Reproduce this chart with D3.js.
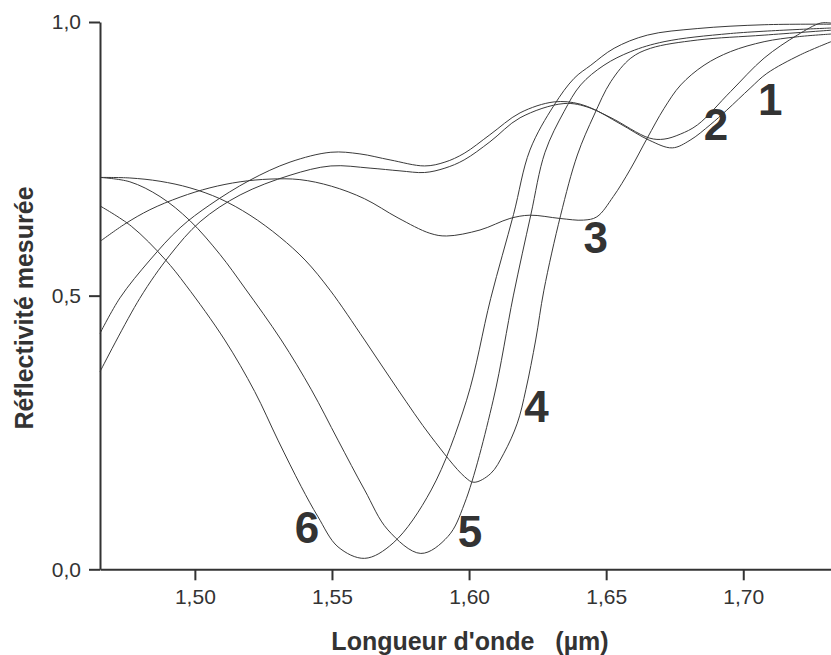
<!DOCTYPE html>
<html>
<head>
<meta charset="utf-8">
<script src="https://cdn.jsdelivr.net/npm/d3@7"></script>
<style>
  body { margin: 0; background: #fff; }
  text { font-family: Arial, "Liberation Sans", sans-serif; }
</style>
</head>
<body>
<div id="chart-area"></div>
<script>
// Longueur d'onde (µm) et réflectivité pour chaque courbe
var wl1 = [1.4654, 1.4799, 1.4909, 1.5019, 1.5165, 1.5347, 1.5496, 1.5639, 1.5748, 1.5838, 1.5912, 1.5982, 1.6076, 1.6186, 1.6346, 1.6441, 1.6551, 1.6657, 1.6741, 1.6806, 1.6879, 1.6940, 1.7025, 1.7086, 1.7208, 1.7320];
var refl1 = [0.361, 0.495, 0.574, 0.635, 0.684, 0.720, 0.737, 0.733, 0.728, 0.725, 0.733, 0.748, 0.781, 0.825, 0.851, 0.843, 0.814, 0.784, 0.770, 0.784, 0.812, 0.839, 0.879, 0.906, 0.940, 0.964];

var wl2 = [1.4654, 1.4727, 1.4836, 1.4946, 1.5055, 1.5201, 1.5347, 1.5496, 1.5602, 1.5712, 1.5838, 1.5912, 1.5982, 1.6076, 1.6186, 1.6310, 1.6405, 1.6514, 1.6657, 1.6711, 1.6770, 1.6833, 1.6954, 1.7076, 1.7197, 1.7282, 1.7320];
var refl2 = [0.431, 0.496, 0.565, 0.624, 0.666, 0.711, 0.744, 0.762, 0.759, 0.748, 0.737, 0.744, 0.760, 0.794, 0.834, 0.854, 0.850, 0.826, 0.788, 0.786, 0.795, 0.812, 0.873, 0.934, 0.976, 0.998, 0.998];

var wl3 = [1.4654, 1.4745, 1.4836, 1.4946, 1.5055, 1.5165, 1.5274, 1.5383, 1.5498, 1.5619, 1.5741, 1.5857, 1.5918, 1.6040, 1.6149, 1.6222, 1.6332, 1.6417, 1.6466, 1.6526, 1.6587, 1.6650, 1.6711, 1.6772, 1.6857, 1.6954, 1.7076, 1.7197, 1.7320];
var refl3 = [0.599, 0.631, 0.657, 0.680, 0.697, 0.708, 0.713, 0.712, 0.700, 0.677, 0.642, 0.614, 0.609, 0.620, 0.641, 0.647, 0.641, 0.638, 0.644, 0.681, 0.730, 0.788, 0.842, 0.885, 0.921, 0.946, 0.964, 0.973, 0.978];

var wl4 = [1.4654, 1.4763, 1.4873, 1.4982, 1.5092, 1.5201, 1.5310, 1.5402, 1.5493, 1.5619, 1.5741, 1.5862, 1.5984, 1.6018, 1.6079, 1.6127, 1.6176, 1.6207, 1.6243, 1.6273, 1.6334, 1.6395, 1.6456, 1.6517, 1.6590, 1.6662, 1.6832, 1.7076, 1.7320];
var refl4 = [0.716, 0.715, 0.709, 0.697, 0.677, 0.647, 0.607, 0.565, 0.510, 0.419, 0.328, 0.242, 0.169, 0.159, 0.175, 0.212, 0.267, 0.328, 0.419, 0.510, 0.647, 0.757, 0.830, 0.891, 0.934, 0.952, 0.967, 0.976, 0.985];

var wl5 = [1.4654, 1.4763, 1.4873, 1.4982, 1.5092, 1.5182, 1.5315, 1.5425, 1.5522, 1.5619, 1.5704, 1.5824, 1.5923, 1.5984, 1.6088, 1.6162, 1.6225, 1.6277, 1.6346, 1.6407, 1.6492, 1.6590, 1.6711, 1.6954, 1.7320];
var refl5 = [0.716, 0.708, 0.681, 0.637, 0.575, 0.514, 0.419, 0.328, 0.236, 0.145, 0.072, 0.029, 0.060, 0.121, 0.309, 0.501, 0.647, 0.762, 0.836, 0.885, 0.921, 0.946, 0.964, 0.979, 0.989];

var wl6 = [1.4654, 1.4768, 1.4890, 1.4969, 1.5109, 1.5218, 1.5303, 1.5388, 1.5449, 1.5522, 1.5619, 1.5723, 1.5862, 1.5991, 1.6079, 1.6162, 1.6222, 1.6310, 1.6383, 1.6444, 1.6529, 1.6650, 1.6832, 1.7076, 1.7320];
var refl6 = [0.664, 0.627, 0.567, 0.518, 0.419, 0.325, 0.236, 0.151, 0.096, 0.041, 0.020, 0.048, 0.145, 0.309, 0.495, 0.648, 0.766, 0.848, 0.897, 0.921, 0.952, 0.976, 0.988, 0.995, 0.996];

// Graduations
var xMajor = [1.50, 1.55, 1.60, 1.65, 1.70];
var xMinor = [1.475, 1.525, 1.575, 1.625, 1.675, 1.725];
var yMajor = [0.0, 0.5, 1.0];
var yMinor = [0.25, 0.75];

// Numéros des courbes (position en unités du graphique)
var curveNames = ["1", "2", "3", "4", "5", "6"];
var nameWl = [1.7098, 1.6901, 1.6462, 1.6246, 1.6003, 1.5409];
var nameR = [0.830, 0.784, 0.578, 0.270, 0.041, 0.048];

var curves = [[wl1, refl1], [wl2, refl2], [wl3, refl3], [wl4, refl4], [wl5, refl5], [wl6, refl6]];

var width = 831, height = 655;
var ink = "#333";

var svg = d3.select("#chart-area").append("svg")
    .attr("width", width)
    .attr("height", height);

var x = d3.scaleLinear().domain([1.4654, 1.7320]).range([100, 831]);
var y = d3.scaleLinear().domain([0, 1]).range([569.3, 22]);

var virgule = function(fmt) {
    return function(d) { return d3.format(fmt)(d).replace(".", ","); };
};

// Courbes
var line = d3.line()
    .x(d => x(d[0]))
    .y(d => y(d[1]))
    .curve(d3.curveCatmullRom.alpha(0.5));

svg.selectAll("path.curve")
    .data(curves)
    .enter()
    .append("path")
    .attr("class", "curve")
    .attr("d", c => line(c[0].map((w, i) => [w, c[1][i]])))
    .attr("fill", "none")
    .attr("stroke", "#3a3a3a")
    .attr("stroke-width", 1);

// Axe X
var gx = svg.append("g").attr("transform", "translate(0," + y(0) + ")");
gx.call(d3.axisBottom(x).tickValues(xMinor).tickSize(6).tickSizeOuter(0).tickFormat(""));
gx.call(d3.axisBottom(x).tickValues(xMajor).tickSize(11).tickSizeOuter(0).tickPadding(9)
    .tickFormat(virgule(".2f")));

// Axe Y
var gy = svg.append("g").attr("transform", "translate(" + x.range()[0] + ",0)");
gy.call(d3.axisLeft(y).tickValues(yMinor).tickSize(6).tickSizeOuter(0).tickFormat(""));
gy.call(d3.axisLeft(y).tickValues(yMajor).tickSize(11).tickSizeOuter(0).tickPadding(8)
    .tickFormat(virgule(".1f")));

svg.selectAll(".domain").attr("stroke", ink).attr("stroke-width", 2);
svg.selectAll(".tick line").attr("stroke", ink).attr("stroke-width", 2);
svg.selectAll(".tick text")
    .attr("fill", ink)
    .attr("font-size", "21px")
    .attr("font-family", "Arial, 'Liberation Sans', sans-serif");

// Titres des axes
svg.append("text")
    .attr("x", 470)
    .attr("y", 650)
    .attr("text-anchor", "middle")
    .attr("font-size", "25px")
    .attr("font-weight", "bold")
    .attr("fill", ink)
    .attr("xml:space", "preserve")
    .text("Longueur d'onde   (\u00b5m)");

svg.append("text")
    .attr("transform", "translate(33,308) rotate(-90)")
    .attr("text-anchor", "middle")
    .attr("font-size", "25px")
    .attr("font-weight", "bold")
    .attr("fill", ink)
    .text("Réflectivité mesurée");

// Numéros des courbes
svg.selectAll("text.num")
    .data(curveNames)
    .enter()
    .append("text")
    .attr("class", "num")
    .attr("x", (d, i) => x(nameWl[i]))
    .attr("y", (d, i) => y(nameR[i]))
    .attr("text-anchor", "middle")
    .attr("font-size", "44px")
    .attr("font-weight", "bold")
    .attr("fill", ink)
    .text(d => d);
</script>
</body>
</html>
